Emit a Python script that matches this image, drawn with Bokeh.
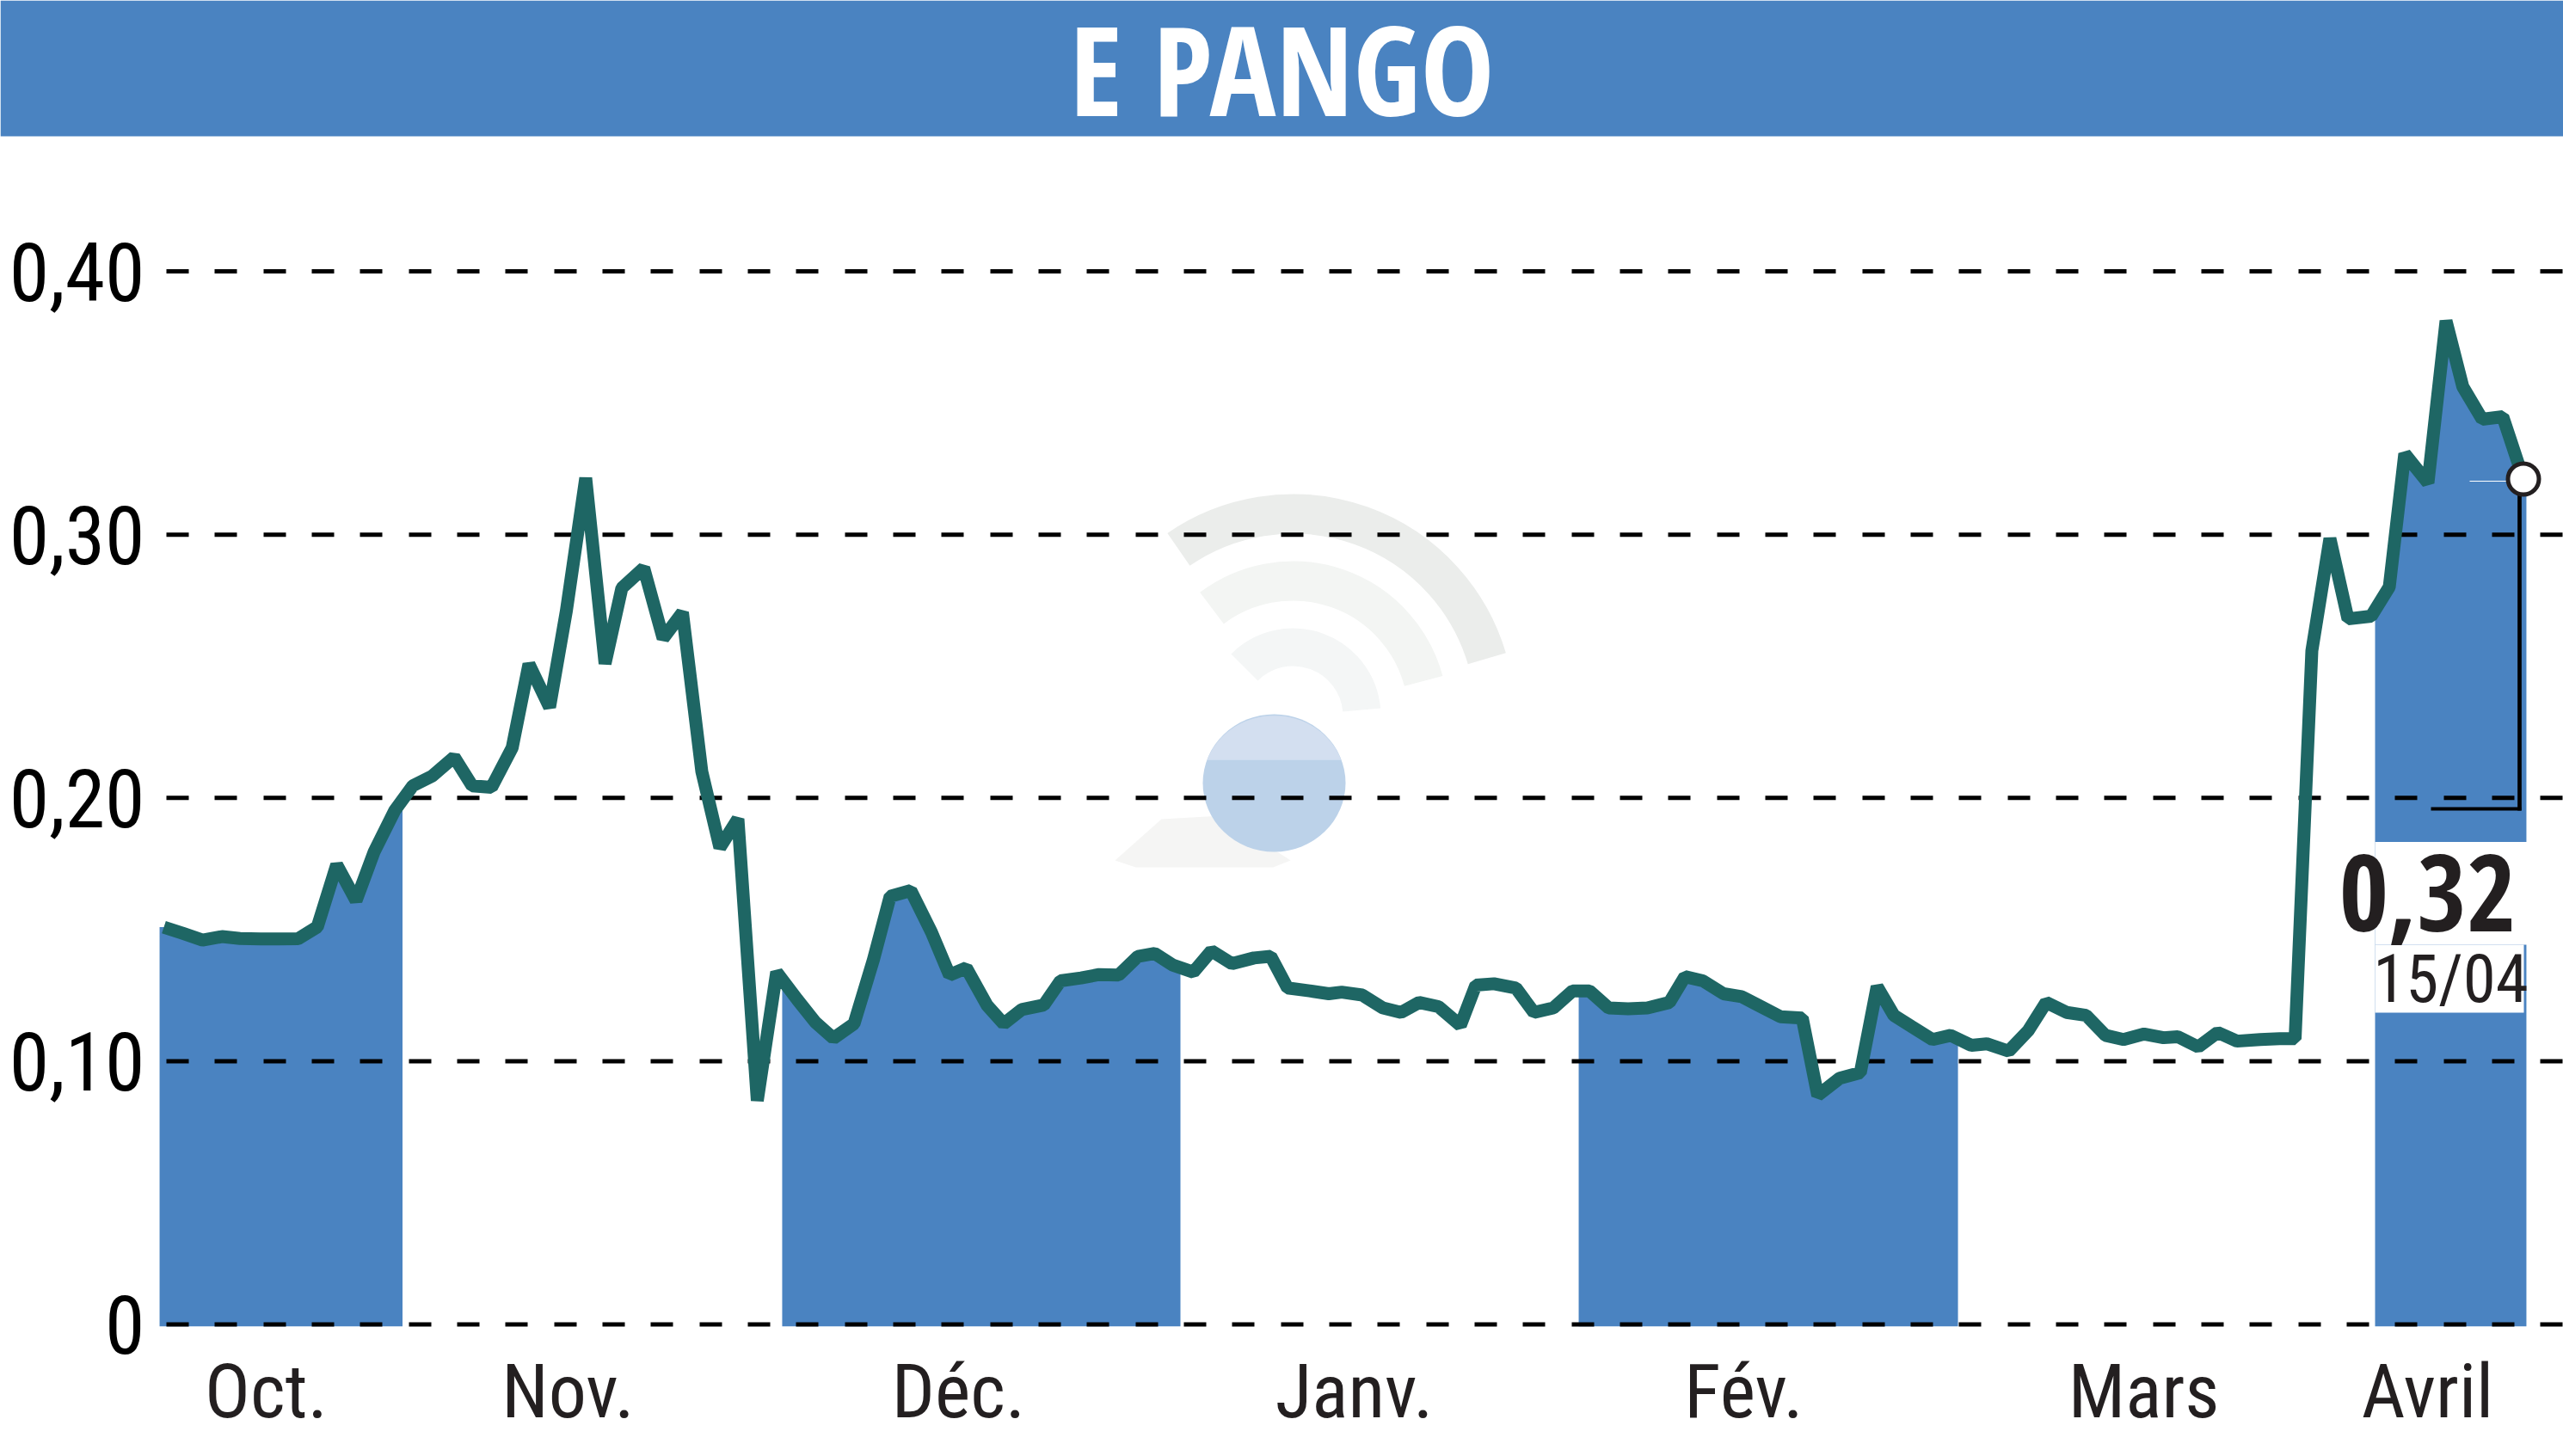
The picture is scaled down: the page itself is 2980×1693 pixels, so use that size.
import numpy as np
from bokeh.embed import file_html
from bokeh.resources import INLINE
from bokeh.plotting import figure
from bokeh.models import FixedTicker, Range1d
from bokeh.core.properties import value

# ---- data -------------------------------------------------------------
title_text = "E PANGO"
last_value = "0,32"
last_date = "15/04"

y_ticks = [0, 0.1, 0.2, 0.3, 0.4]
y_labels = ["0", "0,10", "0,20", "0,30", "0,40"]

month_names = ["Oct.", "Nov.", "Déc.", "Janv.", "Fév.", "Mars", "Avril"]
month_label_day = [7.93, 31.33, 61.6, 92.27, 122.47, 153.47, 175.47]

# shaded months: (first day, last day), days counted from the first quote
shaded_start = [-0.33, 47.93, 109.67, 171.4]
shaded_end = [18.5, 78.8, 139.07, 183.13]

days = [0, 1.5, 3, 4.5, 5.9, 7.5, 8.9, 10.4, 11.9, 13.4, 14.9, 16.3, 17.9, 19.3, 20.8, 22.5, 23.9, 25.4, 27,
        28.3, 29.9, 31.2, 32.7, 34.2, 35.5, 37.2, 38.7, 40.2, 41.7, 43.1, 44.5,
        46, 47.5, 49.1, 50.5, 51.9, 53.5, 55, 56.3, 57.9, 59.5, 60.9, 62.2, 63.8, 65.1, 66.5, 68.2, 69.5, 71.1, 72.5, 74,
        75.5, 76.8, 78.2, 79.8, 81.2, 82.8, 84.5, 85.8, 87.1, 88.8, 90.3, 91.3, 92.9, 94.5, 95.9, 97.3, 98.8, 100.5, 101.7, 103.1, 104.8, 106.2,
        107.7, 109.2, 110.5, 112, 113.5, 115, 116.7, 117.9, 119.3, 120.9, 122.3, 123.8, 125.3, 127, 128.2, 129.9, 131.5, 132.8, 134.1, 135.5, 137.1, 138.5,
        140.1, 141.3, 143, 144.5, 145.9, 147.5, 149, 150.5, 151.9, 153.5, 155, 156.1, 157.7, 159.2, 160.7, 162.5, 164, 165.2,
        166.5, 167.9, 169.3, 171.1, 172.5, 173.7, 175.5, 176.9, 178.2, 179.7, 181.3, 182.9]

prices = [.1509, .1485, .1460, .1473, .1466, .1464, .1464, .1465, .1510, .1746, .1610, .1795, .1952, .2046, .2083, .2155, .2046, .2040, .2190,
          .2508, .2345, .2710, .3215, .2510, .2797, .2873, .2606, .2704, .2100, .1811, .1920,
          .0850, .1338, .1234, .1148, .1087, .1142, .1385, .1626, .1648, .1490, .1327, .1354, .1213, .1142, .1196, .1213, .1305, .1316, .1329, .1327,
          .1398, .1409, .1365, .1338, .1419, .1370, .1392, .1398, .1278, .1267, .1256, .1262, .1251, .1202, .1185, .1223, .1207, .1136, .1289, .1294, .1278, .1185,
          .1202, .1267, .1267, .1202, .1199, .1202, .1223, .1321, .1305, .1256, .1245, .1207, .1169, .1164, .0870, .0935, .0956, .1283, .1174, .1131, .1082, .1098,
          .1060, .1066, .1038, .1115, .1223, .1185, .1174, .1098, .1082, .1103, .1089, .1093, .1054, .1109, .1076, .1082, .1085, .1085,
          .2559, .2985, .2680, .2690, .2801, .3307, .3197, .3812, .3562, .3438, .3448, .3211]

# ---- styles -----------------------------------------------------------
BLUE = "#4a83c1"
TEAL = "#1e6664"
INK = "#231f20"
LIGHT_FONT = "Roboto Condensed"
HEAVY_FONT = "Open Sans Condensed"
BASELINE_SHIFT = 0.37  # text sits this many em lower than its anchor

# scale of the chart on the page
PX_PER_DAY = 15.0
PX_PER_UNIT = 3061.25
X0_PX = 190.0   # page x of day 0
Y0_PX = 1539.5  # page y of price 0


def dx(px):
    return (px - X0_PX) / PX_PER_DAY


def vy(py):
    return (Y0_PX - py) / PX_PER_UNIT


PAGE_L, PAGE_R, PAGE_T, PAGE_B = 0, 2980, 0, 1693
p = figure(width=PAGE_R - PAGE_L, height=PAGE_B - PAGE_T, output_backend="svg", toolbar_location=None,
           x_range=Range1d(dx(PAGE_L), dx(PAGE_R)), y_range=Range1d(vy(PAGE_B), vy(PAGE_T)),
           min_border=0, outline_line_color=None,
           background_fill_color="white", border_fill_color="white")
p.grid.visible = False

p.yaxis.fixed_location = dx(193)
p.yaxis.ticker = FixedTicker(ticks=y_ticks)
p.yaxis.major_label_overrides = dict(zip(y_ticks, y_labels))
p.yaxis.major_label_text_font = LIGHT_FONT
p.yaxis.major_label_text_font_size = "94px"
p.yaxis.major_label_text_color = "black"
p.yaxis.major_label_standoff = 19
p.xaxis.fixed_location = vy(1545)
p.xaxis.ticker = FixedTicker(ticks=month_label_day)
p.xaxis.major_label_overrides = dict(zip(month_label_day, month_names))
p.xaxis.major_label_text_font = LIGHT_FONT
p.xaxis.major_label_text_font_size = "88px"
p.xaxis.major_label_text_color = INK
p.xaxis.major_label_standoff = 14
for ax in (p.xaxis, p.yaxis):
    ax.axis_line_color = None
    ax.major_tick_line_color = None
    ax.minor_tick_line_color = None


def label(xpx, basepx, txt, size, font, color):
    p.text(x=[dx(xpx)], y=[vy(basepx - BASELINE_SHIFT * size)], text=[txt], text_color=color,
           text_align="center", text_baseline="alphabetic", text_font=value(font),
           text_font_size=f"{size}px")


# header band and title
p.quad(left=[dx(PAGE_L)], right=[dx(PAGE_R)], top=[vy(PAGE_T)], bottom=[vy(158)],
       fill_color=BLUE, line_color=None, level="image")
label(1490, 132, title_text, 144, HEAVY_FONT, "white")

# shaded months, following the price curve
base = vy(1541.7)
d_arr, pr_arr = np.array(days), np.array(prices)
for a, b in zip(shaded_start, shaded_end):
    inner = d_arr[(d_arr > a) & (d_arr < b)]
    xs = np.concatenate([[a], inner, [b]])
    p.varea(x=xs, y1=np.interp(xs, d_arr, pr_arr), y2=base, fill_color=BLUE, level="image")

# white plate behind the last quote
p.quad(left=[dx(2761), dx(2761)], right=[dx(2937.5), dx(2934)],
       top=[vy(978.5), vy(1098)], bottom=[vy(1098), vy(1177)],
       fill_color="white", line_color=None, level="image")

# watermark
cx, cy = dx(1503), vy(832)
for r, th, a0, a1, col in [(235, 46, 16.5, 124.5, "#ebedeb"), (157, 46, 15, 127, "#f3f5f3"), (80, 44, 5, 135, "#f4f6f6")]:
    p.arc(x=[cx], y=[cy], radius=[r], radius_units="screen", start_angle=[np.radians(a0)], end_angle=[np.radians(a1)],
          line_color=col, line_width=th, line_cap="butt", level="image")
p.patch(x=[dx(1296), dx(1350), dx(1420), dx(1500), dx(1480), dx(1320)],
        y=[vy(1000), vy(952), vy(948), vy(1000), vy(1008), vy(1008)],
        fill_color="#f5f5f4", line_color=None, level="image")
bx, by, brx, bry = dx(1481), vy(910), 83 / PX_PER_DAY, 80 / PX_PER_UNIT
p.ellipse(x=[bx], y=[by], width=[2 * brx], height=[2 * bry], fill_color="#bcd2e9", line_color=None, level="image")
t = np.linspace(np.radians(20), np.radians(160), 40)
p.patch(x=bx + brx * np.cos(t), y=by + bry * np.sin(t) * 0.98,
        fill_color="#d3dff0", line_color=None, level="image")

# dashed horizontal rules
p.segment(x0=dx(193), x1=dx(PAGE_R), y0=y_ticks, y1=y_ticks, line_color="black", line_width=5,
          line_dash="26 30 26 31 26 30", level="underlay")

# price curve
p.line(days, prices, line_color=TEAL, line_width=15, line_join="bevel", line_cap="butt")

# last quote marker
p.line([dx(2871), dx(2915)], [vy(559), vy(559)], line_color="white", line_width=1.2)
p.line([dx(2826), dx(2931)], [vy(940), vy(940)], line_color="black", line_width=4)
p.line([dx(2929), dx(2929)], [vy(942), vy(560)], line_color="black", line_width=4.7)
p.scatter(x=[days[-1]], y=[prices[-1]], marker="circle", size=36, fill_color="white",
          line_color=INK, line_width=5)
label(2822, 1084, last_value, 124, HEAVY_FONT, INK)
label(2849, 1167, last_date, 77, LIGHT_FONT, INK)

open("out.html", "w").write(file_html(p, INLINE))
